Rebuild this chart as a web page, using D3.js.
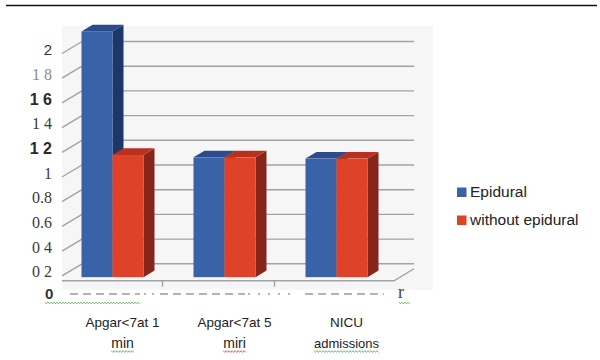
<!DOCTYPE html>
<html>
<head>
<meta charset="utf-8">
<script src="https://cdn.jsdelivr.net/npm/d3@7"></script>
<style>
  html, body { margin: 0; padding: 0; background: #fff; }
  svg { display: block; }
</style>
</head>
<body>
<svg id="chart" width="600" height="360"></svg>
<script>
// ---- data ----
const categories = ["Apgar<7at 1\nmin", "Apgar<7at 5\nmiri", "NICU\nadmissions"];
const seriesNames = ["Epidural", "without epidural"];
const epidural = [2.15, 1.13, 1.12];
const withoutEpidural = [1.15, 1.13, 1.12];
const tickValues = [0.2, 0.4, 0.6, 0.8, 1, 1.2, 1.4, 1.6, 1.8, 2];
const tickLabels = ["0 2", "0 4", "0.6", "0.8", "1", "1 2", "1 4", "1 6", "1 8", "2"];
const floorValue = 0.16;

// ---- layout ----
const svg = d3.select("#chart");
const DX = 20, DY = 12;          // oblique offset from back wall to front edge
const zFront = 0.7, zBack = 0.15; // depth of the columns (0 = back wall, 1 = front)
const wallLeft = 82, wallRight = 414;
const SANS = "'Liberation Sans', Arial, sans-serif";
const SERIF = "'Liberation Serif', 'Times New Roman', 'DejaVu Serif', serif";

const y = d3.scaleLinear().domain([0, 2]).range([288.5, 41.5]);
const xGroup = d3.scaleBand().domain(categories).range([70.5, 406.5]);
const groupW = 62;
const xSeries = d3.scaleBand().domain(seriesNames).range([0, groupW]);
const color = d3.scaleOrdinal().domain(seriesNames).range(["#3a62a9", "#de4329"]);
const topColor = d3.scaleOrdinal().domain(seriesNames).range(["#2b4c8c", "#b9311e"]);
const sideColor = d3.scaleOrdinal().domain(seriesNames).range(["#1d3768", "#86251a"]);

// projection of (x on back wall, value, depth) to screen
const P = (x, v, z) => [x - DX * z, y(v) + DY * z];

// top rule
svg.append("line").attr("x1", 6).attr("x2", 597).attr("y1", 5.5).attr("y2", 5.5)
  .attr("stroke", "#111").attr("stroke-width", 1.6);

// plot area backdrop
svg.append("rect").attr("x", 62).attr("y", 26).attr("width", 371).attr("height", 264)
  .attr("fill", "#f6f6f6");

// back wall gridlines and left wall diagonals
const grid = svg.append("g").attr("stroke", "#a2a2a2").attr("stroke-width", 1.4).attr("fill", "none");
tickValues.forEach(v => {
  grid.append("line").attr("x1", wallLeft).attr("x2", wallRight).attr("y1", y(v)).attr("y2", y(v));
  const f = P(wallLeft, v, 1);
  grid.append("line").attr("x1", f[0]).attr("y1", f[1]).attr("x2", wallLeft).attr("y2", y(v));
});

// floor: front edge and right edge
const fl = P(wallLeft, floorValue, 1), fr = P(wallRight, floorValue, 1), br = P(wallRight, floorValue, 0);
grid.append("path").attr("d", `M${fl[0]},${fl[1]}L${fr[0]},${fr[1]}L${br[0]},${br[1]}`);

// category tick marks on the floor front edge
xGroup.domain().slice(1).forEach(c => {
  const p = P(xGroup(c), floorValue, 1);
  grid.append("line").attr("x1", p[0]).attr("x2", p[0]).attr("y1", p[1]).attr("y2", p[1] + 6);
});

// columns
const offset = (xGroup.step() - groupW) / 2;
const seriesValues = [epidural, withoutEpidural];
const bars = svg.append("g");
categories.forEach((c, i) => {
  seriesNames.forEach((s, k) => {
    const v = seriesValues[k][i];
    const x0 = xGroup(c) + offset + xSeries(s);
    const x1 = x0 + xSeries.bandwidth();
    const g = bars.append("g");
    const pts = a => a.map(p => p.join(",")).join(" ");
    // side
    g.append("polygon").attr("fill", sideColor(s))
      .attr("points", pts([P(x1, v, zFront), P(x1, v, zBack), P(x1, floorValue, zBack), P(x1, floorValue, zFront)]));
    // top
    g.append("polygon").attr("fill", topColor(s))
      .attr("points", pts([P(x0, v, zFront), P(x1, v, zFront), P(x1, v, zBack), P(x0, v, zBack)]));
    // front
    const a = P(x0, v, zFront), b = P(x1, floorValue, zFront);
    g.append("rect").attr("x", a[0]).attr("y", a[1]).attr("width", b[0] - a[0]).attr("height", b[1] - a[1])
      .attr("fill", color(s));
  });
});

// value axis labels
const labelStyle = t => {
  if (t === "1 6" || t === "1 2") return { family: SANS, weight: 700, size: 16, fill: "#2a2a2a" };
  if (t === "2") return { family: SANS, weight: 400, size: 15, fill: "#333" };
  if (t === "1 8") return { family: SERIF, weight: 400, size: 16, fill: "#8a8a8a" };
  return { family: SERIF, weight: 400, size: 16, fill: "#3a3a3a" };
};
const yLabels = svg.append("g").attr("text-anchor", "end");
tickValues.forEach((v, i) => {
  const st = labelStyle(tickLabels[i]);
  yLabels.append("text").attr("x", 52).attr("y", y(v) + 8).attr("dy", "0.35em")
    .attr("font-family", st.family).attr("font-weight", st.weight).attr("font-size", st.size)
    .attr("fill", st.fill).text(tickLabels[i]);
});
svg.append("text").attr("x", 45).attr("y", 294).attr("dy", "0.35em")
  .attr("font-family", SANS).attr("font-size", 15).attr("font-weight", 700)
  .attr("fill", "#333").text("0");

// dashed leader below the chart
const lead = svg.append("g").attr("stroke", "#9a9a9a").attr("stroke-width", 1.6);
[[70, 140, "8,5"], [144, 156, "2,6"], [160, 245, "8,5"], [248, 292, "2,8"], [305, 384, "8,5"]].forEach(d => {
  lead.append("line").attr("x1", d[0]).attr("x2", d[1]).attr("y1", 294).attr("y2", 294).attr("stroke-dasharray", d[2]);
});
svg.append("text").attr("x", 398).attr("y", 298).attr("font-family", SERIF)
  .attr("font-size", 18).attr("fill", "#444").text("r");

// spell-check style wavy underline
const wavy = (x0, x1, yy, col) => {
  const pts = [];
  for (let x = x0, j = 0; x <= x1; x += 1.5, j++) pts.push([x, yy + (j % 2 ? 1 : -1) * 0.9]);
  svg.append("path").attr("d", d3.line()(pts)).attr("fill", "none").attr("stroke", col).attr("stroke-width", 0.8);
};
wavy(45, 140, 303, "#4caf50");
wavy(399, 410, 303, "#4caf50");

// category labels
const catLabels = svg.append("g").attr("text-anchor", "middle")
  .attr("font-family", SANS).attr("fill", "#222");
categories.forEach((c, i) => {
  const cx = xGroup(c) + xGroup.step() / 2 - 4;
  const lines = c.split("\n");
  catLabels.append("text").attr("x", cx).attr("y", 327).attr("font-size", 13.5).text(lines[0]);
  const t2 = catLabels.append("text").attr("x", cx).attr("y", 348)
    .attr("font-size", lines[1] === "admissions" ? 13 : 14).text(lines[1]);
  const w = t2.node().getComputedTextLength();
  wavy(cx - w / 2, cx + w / 2, 351.5, lines[1] === "miri" ? "#d9413a" : "#4caf50");
});

// legend
const legend = svg.append("g").attr("font-family", SANS).attr("font-size", 15.5).attr("fill", "#222");
seriesNames.forEach((s, k) => {
  const yy = 192 + k * 28;
  legend.append("rect").attr("x", 457).attr("y", yy - 4.5).attr("width", 9.5).attr("height", 9.5).attr("fill", color(s));
  legend.append("text").attr("x", 470).attr("y", yy).attr("dy", "0.35em").text(s);
});
</script>
</body>
</html>
